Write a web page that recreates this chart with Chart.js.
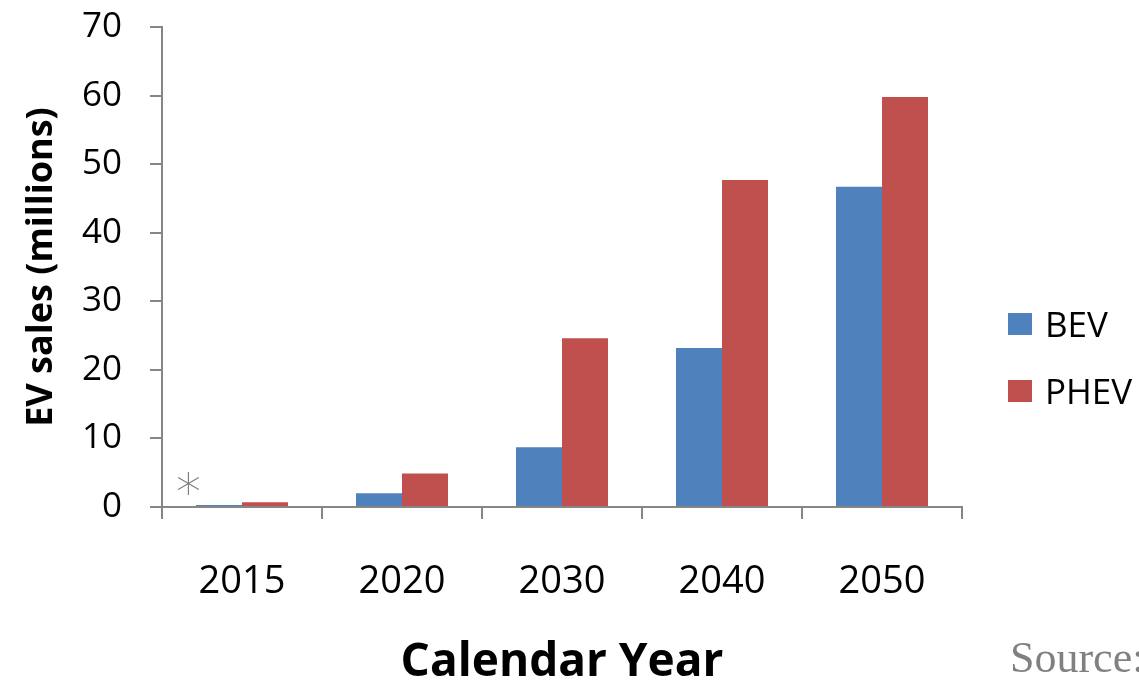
<!DOCTYPE html>
<html>
<head>
<meta charset="utf-8">
<script src="https://cdn.jsdelivr.net/npm/chart.js@4.4.0/dist/chart.umd.min.js"></script>
<style>
html,body{margin:0;padding:0;background:#fff;overflow:hidden;}
#wrap{position:relative;width:1139px;height:685px;overflow:hidden;}
#chart{position:absolute;left:0;top:0;}
.item{position:absolute;left:1008px;height:48px;line-height:48px;display:flex;align-items:center;white-space:nowrap;font-family:'Open Sans';font-size:35px;color:#000;}
.sw{width:24px;height:22px;margin-right:13px;flex:none;}
#source{position:absolute;left:1010px;top:638px;font-family:'Liberation Serif';font-size:44px;line-height:40px;color:#808080;white-space:nowrap;}
</style>
</head>
<body>
<div id="wrap">
  <canvas id="chart" width="1139" height="685"></canvas>
  <div id="legend"></div>
  <div id="source">Source:</div>
</div>
<script>
const categories = ['2015', '2020', '2030', '2040', '2050'];
const bevSales = [0.3, 2.0, 8.7, 23.2, 46.7];
const phevSales = [0.7, 4.9, 24.6, 47.7, 59.8];
const yTicks = [0, 10, 20, 30, 40, 50, 60, 70];
const seriesNames = ['BEV', 'PHEV'];
const seriesColors = ['#4F81BD', '#C0504D'];
const notes = [{ category: '2015', value: 3.5, text: '*' }];

const axisColor = '#868686';

// HTML legend built from the series arrays
const legendEl = document.getElementById('legend');
const legendCenters = [324, 391];
seriesNames.forEach((name, i) => {
  const it = document.createElement('div');
  it.className = 'item';
  it.style.top = (legendCenters[i] - 24) + 'px';
  const sw = document.createElement('span');
  sw.className = 'sw';
  sw.style.background = seriesColors[i];
  const tx = document.createElement('span');
  tx.textContent = name;
  it.appendChild(sw); it.appendChild(tx);
  legendEl.appendChild(it);
});

const notePlugin = {
  id: 'notes',
  afterDatasetsDraw(chart, args, opts) {
    const { ctx, scales: { x, y } } = chart;
    const catW = x.width / categories.length;
    notes.forEach(n => {
      const i = categories.indexOf(n.category);
      const cx = x.getPixelForValue(i) - catW * opts.dxFrac;
      const cy = y.getPixelForValue(n.value);
      ctx.save();
      ctx.font = opts.font;
      ctx.fillStyle = opts.color;
      ctx.textAlign = 'center';
      ctx.textBaseline = 'alphabetic';
      const m = ctx.measureText(n.text);
      const base = cy + (m.actualBoundingBoxAscent - m.actualBoundingBoxDescent) / 2;
      ctx.fillText(n.text, cx, base);
      ctx.restore();
    });
  }
};

new Chart(document.getElementById('chart'), {
  type: 'bar',
  data: {
    labels: categories,
    datasets: [
      { label: seriesNames[0], data: bevSales, backgroundColor: seriesColors[0], borderWidth: 0 },
      { label: seriesNames[1], data: phevSales, backgroundColor: seriesColors[1], borderWidth: 0 }
    ]
  },
  plugins: [notePlugin],
  options: {
    responsive: false,
    animation: false,
    devicePixelRatio: 1,
    categoryPercentage: 0.575,
    barPercentage: 1.0,
    layout: { padding: { top: 27, right: 177, bottom: 0, left: 0 } },
    plugins: {
      legend: { display: false },
      tooltip: { enabled: false },
      notes: { dxFrac: 0.334, font: '300 50px "DejaVu Sans"', color: '#7f7f7f' }
    },
    scales: {
      x: {
        afterFit: s => { s.height = 178; s.paddingLeft = 0; s.paddingRight = 0; },
        border: { display: true, color: axisColor, width: 2 },
        grid: { display: true, drawOnChartArea: false, drawTicks: true, tickLength: 12, color: axisColor, lineWidth: 2, offset: true },
        ticks: { font: { family: 'Open Sans', size: 38 }, color: '#000', padding: 40, maxRotation: 0 },
        title: { display: true, text: 'Calendar Year', font: { family: 'Open Sans', size: 46, weight: 'bold' }, color: '#000', padding: { top: 0, bottom: -5 } }
      },
      y: {
        min: 0,
        max: 70,
        afterBuildTicks: s => { s.ticks = yTicks.map(v => ({ value: v })); },
        afterFit: s => { s.width = 162; s.paddingTop = 0; s.paddingBottom = 0; },
        border: { display: true, color: axisColor, width: 2 },
        grid: { display: true, drawOnChartArea: false, drawTicks: true, tickLength: 12, color: axisColor, lineWidth: 2 },
        ticks: { font: { family: 'Open Sans', size: 35 }, color: '#000', padding: 28 },
        title: { display: true, text: 'EV sales (millions)', font: { family: 'Open Sans', size: 36, weight: 'bold' }, color: '#000', padding: { top: 20, bottom: 0 } }
      }
    }
  }
});
</script>
</body>
</html>
